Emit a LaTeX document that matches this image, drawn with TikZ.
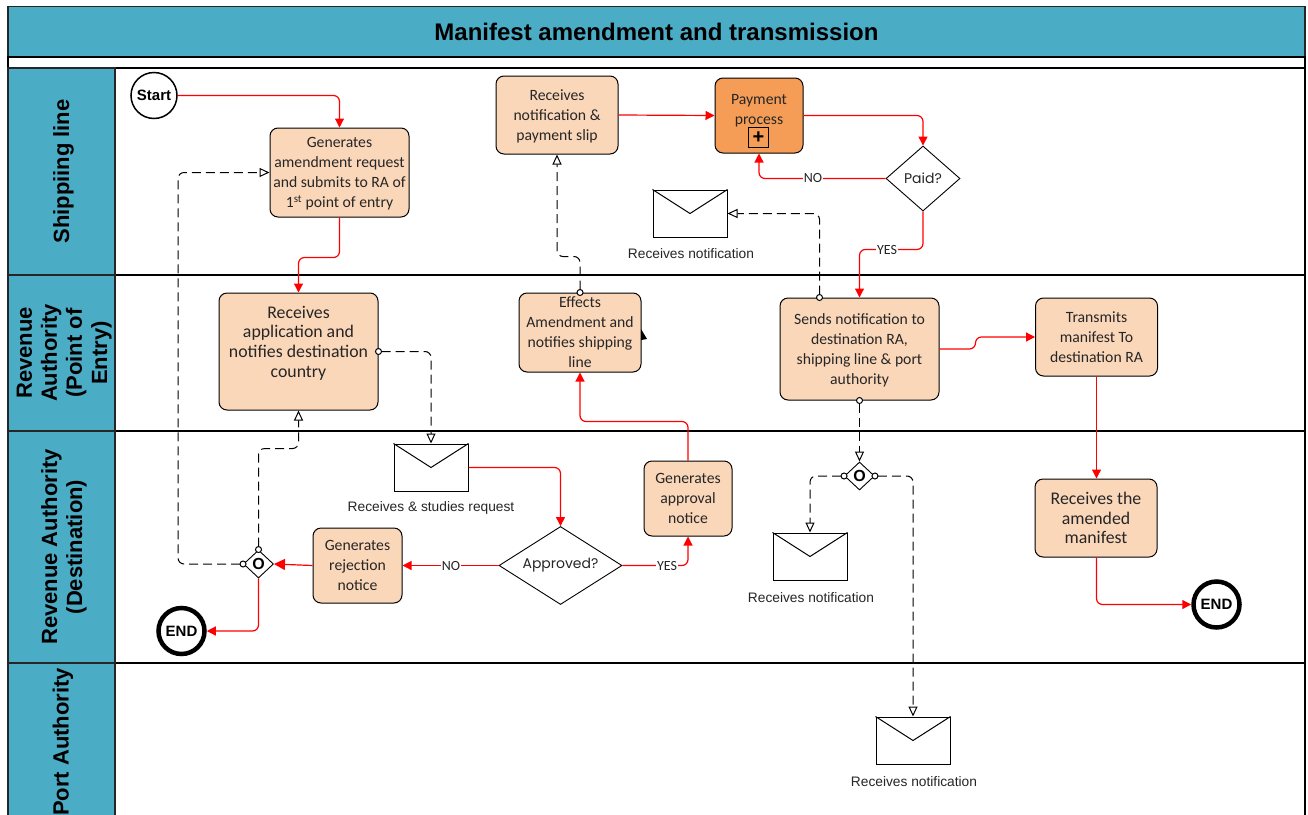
\documentclass[tikz,border=0pt]{standalone}
\usepackage{fontspec}
\usepackage{tikz}
\usetikzlibrary{arrows.meta, shapes.geometric}
\setmainfont{Liberation Sans}
\newfontfamily\boxfont{Carlito}
\newfontfamily\askfont{Poppins}

\definecolor{laneblue}{HTML}{4BACC6}
\definecolor{taskfill}{HTML}{FBD7BA}
\definecolor{subfill}{HTML}{F59D56}
\definecolor{inkgrey}{HTML}{262626}

\begin{document}
\begin{tikzpicture}[
		x=1pt, y=-1pt,
		lanehead/.style={rectangle, draw=inkgrey, line width=1.2pt, fill=laneblue, inner sep=0pt, align=center, font=\fontsize{22}{25}\selectfont\bfseries, text=black},
		lanebody/.style={rectangle, draw=black, line width=1.2pt, fill=white, inner sep=0pt},
		basetask/.style={rectangle, rounded corners=8pt, draw=black, line width=1pt, fill=taskfill, inner sep=0pt, align=center, text=inkgrey},
		task/.style={basetask, font=\boxfont\fontsize{15.7}{20}\selectfont, text depth=0pt},
		bigtask/.style={basetask, font=\boxfont\fontsize{17.8}{19.7}\selectfont},
		ask/.style={diamond, draw=black, line width=0.9pt, fill=white, inner sep=0pt, text=inkgrey, font=\askfont\fontsize{14}{15}\selectfont},
		gate/.style={diamond, draw=black, line width=0.9pt, fill=white, inner sep=0pt, minimum width=30pt, minimum height=28pt, font=\fontsize{16}{16}\selectfont\bfseries},
		mail/.style={rectangle, draw=black, line width=1pt, fill=white, inner sep=0pt, minimum width=74pt, minimum height=47pt},
		maillabel/.style={inner sep=0pt, text=inkgrey, font=\fontsize{13.75}{16}\selectfont},
		flowlabel/.style={fill=white, inner sep=1pt, text=inkgrey, font=\boxfont\fontsize{14}{14}\selectfont},
		startev/.style={circle, draw=black, line width=1.5pt, fill=white, inner sep=0pt, minimum size=46pt, font=\fontsize{15}{15}\selectfont\bfseries},
		endev/.style={circle, draw=black, line width=4.5pt, fill=white, inner sep=0pt, minimum size=46pt, font=\fontsize{15}{15}\selectfont\bfseries},
		flow/.style={draw=red, line width=1.2pt, rounded corners=6pt, -{Triangle[length=9pt, width=9pt]}},
		msg/.style={draw=black, line width=1pt, rounded corners=6pt, dash pattern=on 9pt off 5pt, shorten <=-3.5pt, {Circle[open, fill=white, length=7pt, width=7pt]}-{Triangle[open, fill=white, length=10pt, width=9pt]}}
	]
  \useasboundingbox (0,0) rectangle (1308,814);

  % lanes
  \node (title) [lanehead, minimum width=1297pt, minimum height=51pt, font=\fontsize{24}{27}\selectfont\bfseries] at (656.5,32) {Manifest amendment and transmission};
  \node (strip) [lanebody, minimum width=1297pt, minimum height=11pt] at (656.5,62.5) {};
  \node (body_ship) [lanebody, minimum width=1190pt, minimum height=207pt] at (710,171.5) {};
  \node (body_poe) [lanebody, minimum width=1190pt, minimum height=156pt] at (710,353) {};
  \node (body_dest) [lanebody, minimum width=1190pt, minimum height=232pt] at (710,547) {};
  \node (body_port) [lanebody, minimum width=1190pt, minimum height=180pt] at (710,753) {};
  \node (head_ship) [lanehead, minimum width=107pt, minimum height=207pt] at (61.5,171.5) {\hspace*{4pt}\rotatebox{90}{Shippiing line}};
  \node (head_poe) [lanehead, minimum width=107pt, minimum height=156pt] at (61.5,353) {\hspace*{6pt}\rotatebox{90}{\begin{tabular}{@{}c@{}}Revenue\\Authority\\(Point of\\Entry)\end{tabular}}};
  \node (head_dest) [lanehead, minimum width=107pt, minimum height=232pt] at (61.5,547) {\hspace*{6pt}\rotatebox{90}{\begin{tabular}{@{}c@{}}Revenue Authority\\(Destination)\end{tabular}}};
  \node (head_port) [lanehead, minimum width=107pt, minimum height=180pt] at (61.5,753) {};
  \node (head_port_text) [font=\fontsize{22}{25}\selectfont\bfseries, inner sep=0pt] at (63,742) {\rotatebox{90}{Port Authority}};

  % events
  \node (start) [startev] at (154,95.5) {Start};
  \node (end_a) [endev] at (181.5,631) {END};
  \node (end_b) [endev] at (1216.5,604.5) {END};

  % tasks
  \node (gen_request) [task, minimum width=139pt, minimum height=89pt] at (339.5,172.5) {Generates\\amendment request\\and submits to RA of\\1\textsuperscript{st} point of entry};
  \node (slip) [task, minimum width=122pt, minimum height=78pt] at (557,115) {Receives\\notification \&\\payment slip};
  \node (payment) [basetask, fill=subfill, minimum width=88pt, minimum height=75pt] at (759,115.5) {};
  \node (payment_text) [font=\boxfont\fontsize{15.7}{20}\selectfont, text=inkgrey, align=center, inner sep=0pt] at (759,111) {Payment\\process};
  \node (payment_plus) [rectangle, draw=black, line width=1pt, inner sep=0pt, minimum size=20pt, font=\fontsize{20}{20}\selectfont\bfseries] at (758.5,137.5) {+};
  \node (receives_app) [bigtask, minimum width=159pt, minimum height=117pt] at (298.5,351.5) {Receives\\application and\\notifies destination\\country\\~};
  \node (effects) [task, minimum width=122pt, minimum height=79pt] at (580,332.5) {Effects\\Amendment and\\notifies shipping\\line};
  \node (sends) [task, minimum width=159pt, minimum height=102pt] at (859.5,349) {Sends notification to\\destination RA,\\shipping line \& port\\authority};
  \node (transmits) [task, minimum width=122pt, minimum height=78pt] at (1096.5,337) {Transmits\\manifest To\\destination RA};
  \node (amended) [bigtask, minimum width=122pt, minimum height=78pt] at (1096,518) {Receives the\\amended\\manifest};
  \node (approval) [task, minimum width=88pt, minimum height=75pt] at (688,498.5) {Generates\\approval\\notice};
  \node (rejection) [task, minimum width=89pt, minimum height=75pt] at (357.5,565.5) {Generates\\rejection\\notice};

  % decisions
  \node (paid) [ask, minimum width=74pt, minimum height=65pt] at (923,178.5) {Paid?};
  \node (approved) [ask, aspect=1.6, minimum width=123pt, minimum height=78pt] at (560.5,565.5) {Approved?};
  \node (gate_a) [gate] at (258.5,564) {O};
  \node (gate_b) [gate] at (859.5,476) {O};

  % messages
  \node (mail_notify) [mail] at (690,213.5) {};
  \node (mail_study) [mail] at (431,467.5) {};
  \node (mail_dest) [mail] at (810,556.5) {};
  \node (mail_port) [mail] at (913,740.5) {};
  \foreach \m in {mail_notify, mail_study, mail_dest, mail_port}
    \draw [line width=1pt] (\m.north west) -- (\m.center) -- (\m.north east);
  \node (mail_notify_text) [maillabel] at (691,254) {Receives notification};
  \node (mail_study_text) [maillabel] at (431,508) {Receives \& studies request};
  \node (mail_dest_text) [maillabel] at (811,598) {Receives notification};
  \node (mail_port_text) [maillabel] at (914,782) {Receives notification};

  % sequence flows
  \draw [flow] (start.east) -| (gen_request.north);
  \draw [flow] (gen_request.south) -- ++(0,40) -| (receives_app.north);
  \draw [flow] (slip.east) -- (payment.west);
  \draw [flow] (payment.east) -| (paid.north);
  \draw [flow] (paid.west) -| (payment.south);
  \draw [flow] (paid.south) -- ++(0,38) -| (sends.north);
  \draw [flow] (sends.east) -- ++(36,0) |- (transmits.west);
  \draw [flow] (transmits.south) -- (transmits.south |- amended.north);
  \draw [flow] (amended.south -| transmits.south) |- (end_b.west);
  \draw [flow] (mail_study.east) -| (approved.north);
  \draw [flow] (approved.west) -- (approved.west -| rejection.east);
  \draw [flow] (approved.east) -| (approval.south);
  \draw [flow] (approval.north) -- ++(0,-39) -| (effects.south);
  \draw [flow, -{Triangle[length=11pt, width=11pt]}] (rejection.west) -- (gate_a.east);
  \draw [flow] (gate_a.south) |- (end_a.east);

  % message flows
  \draw [msg] (gate_a.north) -- ++(0,-101) -| (receives_app.south);
  \draw [msg] (gate_a.west) -- ++(-65,0) |- (gen_request.west);
  \draw [msg] (receives_app.east) -| (mail_study.north);
  \draw [msg] (effects.north) -- ++(0,-36) -| (slip.south);
  \draw [msg] ([xshift=-40pt]sends.north) |- (mail_notify.east);
  \draw [msg] (sends.south) -- (gate_b.north);
  \draw [msg] (gate_b.west) -| (mail_dest.north);
  \draw [msg] (gate_b.east) -| (mail_port.north);

  \node (no_paid) [flowlabel] at (813,178.5) {NO};
  \node (yes_paid) [flowlabel] at (887,250) {YES};
  \node (no_approved) [flowlabel] at (451,566) {NO};
  \node (yes_approved) [flowlabel] at (667,566) {YES};

  \fill (641,329) -- (647,339) -- (641,340) -- cycle;
\end{tikzpicture}
\end{document}
